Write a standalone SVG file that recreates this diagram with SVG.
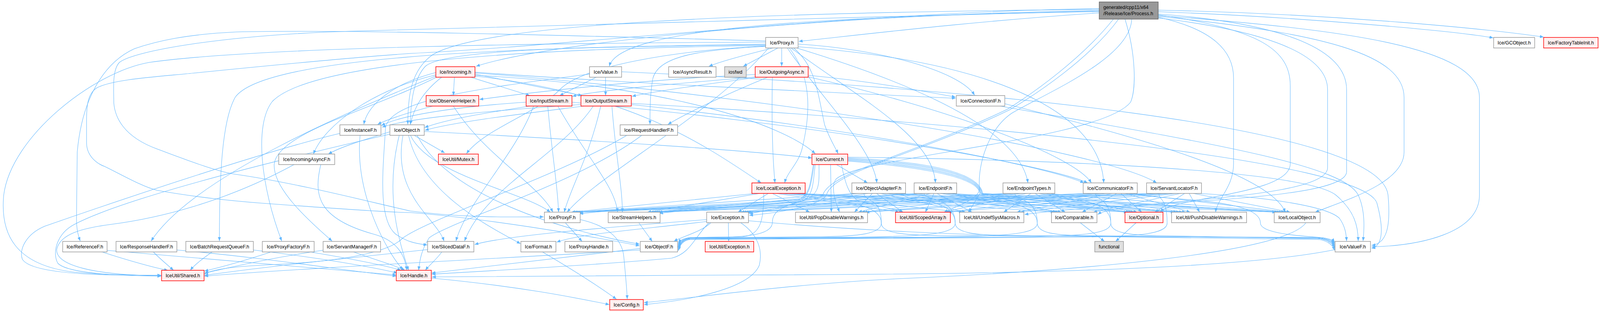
<svg xmlns="http://www.w3.org/2000/svg" width="4288" height="800" viewBox="0 0 4288 800">
<style>
.e{fill:none;stroke:#63b8ff;stroke-width:1.1;marker-end:url(#a)}
.node rect{stroke-width:1.5}
.n rect{fill:#ffffff;stroke:#999999}
.r rect{fill:#fff0f0;stroke:#ff0000}
.g rect{fill:#e0e0e0;stroke:#999999}
.p rect{fill:#999999;stroke:#666666}
.node text{font-family:"Liberation Sans",Arial,Helvetica,sans-serif;font-size:13px;fill:#000000;text-anchor:middle}
.p text{text-anchor:start}
</style>
<defs>
<marker id="a" markerWidth="10" markerHeight="8" refX="10" refY="4" orient="auto" markerUnits="userSpaceOnUse"><path d="M0,0 L10,4 L0,8 z" fill="#63b8ff"/></marker>
</defs>
<rect width="4288" height="800" fill="#ffffff"/>
<g id="diagram" transform="scale(0.9552,1)">
<g id="connectors">
<!-- Process -->
<path class="e" d="M2946,33 C2600,55 2300,90 2141,106"/>
<path class="e" d="M2946,27 C2300,36 1500,100 1276,170"/>
<path class="e" d="M2946,30 C2200,42 1660,70 1633,170"/>
<path class="e" d="M2946,24 C2000,32 1300,60 1160,140 C1100,180 1093,250 1093,319"/>
<path class="e" d="M3104,30 C3500,44 3900,80 4002,97"/>
<path class="e" d="M3104,26 C3600,36 4000,76 4137,95"/>
<path class="e" d="M3104,40 C3600,75 3965,120 3965,250 L3965,500 C3965,600 3800,630 3676,633"/>
<path class="e" d="M3104,42 C3550,85 3763,140 3763,250 L3763,390 C3763,470 3600,515 3525,544"/>
<path class="e" d="M3104,44 C3250,75 3306,130 3306,200 L3306,420 C3306,480 3262,510 3258,544"/>
<path class="e" d="M3104,38 C3380,75 3458,130 3458,220 L3458,420 C3458,500 3140,505 3110,544"/>
<path class="e" d="M3104,46 C3400,80 3558,140 3558,230 L3558,430 C3558,515 3000,510 2942,550"/>
<path class="e" d="M3104,36 C3450,60 3609,130 3609,230 L3609,440 C3609,520 3000,515 2746,550"/>
<path class="e" d="M3033,49 C3030,150 2800,240 2712,290 C2650,330 2620,420 2625,482 C2628,510 2560,530 2530,544"/>
<path class="e" d="M3015,49 C3045,140 3045,230 3030,262 C2950,360 2300,400 2240,460 C2225,480 2240,520 2250,544"/>
<path class="e" d="M2998,49 C2920,150 2780,240 2705,282 C2450,400 2230,440 2215,500 C2200,525 2100,545 2008,552"/>
<path class="e" d="M2984,49 C2900,150 2770,238 2700,280 C2440,400 2225,440 2205,500 C2190,525 1900,530 1765,544"/>
<path class="e" d="M2946,28 C2400,40 1400,70 940,80 C600,90 360,130 320,160 C300,180 305,230 305,264 C308,300 330,350 421,382 C500,410 580,440 632,447 C800,470 1000,520 1100,541 C1250,560 1380,556 1457,556"/>
<path class="e" d="M2946,22 C2300,30 1500,120 1100,137 C900,150 600,180 491,190 C400,198 300,205 260,225 C235,240 232,270 232,309 L232,366 C232,400 260,420 281,427 C330,450 380,478 421,488 C520,505 620,515 702,521 C900,535 1050,545 1100,545 C1300,560 1550,600 1714,630"/>
<!-- Proxy -->
<path class="e" d="M2072,123 C2000,140 1930,158 1900,170"/>
<path class="e" d="M2085,123 L1992,170"/>
<path class="e" d="M2095,123 L2095,170"/>
<path class="e" d="M2139,113 C2350,125 2570,180 2612,244"/>
<path class="e" d="M2052,113 C1700,120 1200,120 1140,170 C1110,200 1100,260 1100,319"/>
<path class="e" d="M2052,108 C1500,110 700,120 400,160 C250,185 30,350 10,500 C0,600 40,680 200,698 C300,706 390,706 432,706"/>
<path class="e" d="M2052,105 C1500,90 900,75 632,82 C500,88 420,105 360,125 C280,160 220,250 207,390 L205,560 C205,590 210,605 215,618"/>
<path class="e" d="M2052,115 C1300,120 700,150 630,250 C595,310 588,450 588,618"/>
<path class="e" d="M2052,117 C1300,125 820,170 730,260 C680,320 700,480 755,618"/>
<path class="e" d="M2052,119 C1850,128 1765,150 1750,200 C1742,240 1742,280 1742,319"/>
<path class="e" d="M2052,118 C1800,130 1560,170 1500,230 C1440,290 1300,330 1250,394"/>
<path class="e" d="M2060,123 C1900,300 1600,450 1520,544"/>
<path class="e" d="M2120,123 C2300,250 2500,350 2507,469"/>
<path class="e" d="M2135,123 C2400,200 2730,320 2755,469"/>
<path class="e" d="M2110,123 C2200,250 2340,380 2350,469"/>
<path class="e" d="M2127,123 C2185,170 2190,230 2210,320 C2225,360 2240,380 2246,394"/>
<path class="e" d="M2115,123 C2180,200 2170,300 2150,380 C2140,420 2110,440 2103,469"/>
<path class="e" d="M2139,120 C2700,160 2950,300 2958,469"/>
<!-- Incoming -->
<path class="e" d="M1218,197 L1215,245"/>
<path class="e" d="M1258,197 L1420,245"/>
<path class="e" d="M1273,190 L1560,245"/>
<path class="e" d="M1168,186 C1050,215 985,270 975,319"/>
<path class="e" d="M1185,197 C1140,230 1110,270 1100,319"/>
<path class="e" d="M1273,193 C1800,220 2100,320 2185,394"/>
<path class="e" d="M1273,185 C1700,215 2300,240 2561,252"/>
<path class="e" d="M1273,187 C2000,240 2950,380 3100,469"/>
<path class="e" d="M1273,195 C1700,240 1900,380 2040,469"/>
<path class="e" d="M1168,192 C1000,230 870,320 840,395"/>
<path class="e" d="M1168,195 C950,280 520,450 405,618"/>
<path class="e" d="M1172,197 C1000,280 745,340 735,420 C730,480 820,560 890,618"/>
<!-- Value -->
<path class="e" d="M1600,197 L1500,245"/>
<path class="e" d="M1623,197 L1623,245"/>
<path class="e" d="M1666,184 C2600,225 3700,320 3720,500 C3728,585 3715,625 3676,629"/>
<path class="e" d="M1580,190 C1250,230 1040,260 1033,330 C1028,420 1010,560 1060,600 C1090,620 1115,625 1145,628"/>
<!-- OutgoingAsync -->
<path class="e" d="M2024,191 C1700,205 1400,240 1285,255"/>
<path class="e" d="M2030,197 C1800,215 1600,232 1534,247"/>
<path class="e" d="M2040,197 C1900,215 1760,233 1694,247"/>
<path class="e" d="M2166,193 C2350,210 2480,235 2561,249"/>
<path class="e" d="M2060,197 C1950,240 1840,290 1790,319"/>
<path class="e" d="M2070,197 C2068,300 2070,400 2077,469"/>
<path class="e" d="M2166,197 C2550,280 2880,400 2925,469"/>
<!-- ObserverHelper -->
<path class="e" d="M1160,272 C1090,290 1040,305 1012,319"/>
<path class="e" d="M1215,272 C1300,400 1440,470 1482,544"/>
<!-- InputStream -->
<path class="e" d="M1410,262 C1200,275 1070,298 1022,322"/>
<path class="e" d="M1420,272 C1300,290 1200,305 1138,327"/>
<path class="e" d="M1468,272 C1480,400 1495,480 1497,544"/>
<path class="e" d="M1495,272 C1570,400 1650,480 1655,544"/>
<path class="e" d="M1430,272 C1380,400 1250,520 1222,618"/>
<path class="e" d="M1533,262 C2200,320 2800,420 2915,469"/>
<!-- OutputStream -->
<path class="e" d="M1557,268 C1300,285 1100,302 1024,326"/>
<path class="e" d="M1565,272 C1400,292 1220,312 1139,334"/>
<path class="e" d="M1610,272 C1580,400 1530,480 1512,544"/>
<path class="e" d="M1640,272 C1650,400 1668,480 1668,544"/>
<path class="e" d="M1590,272 C1500,400 1300,480 1245,618"/>
<path class="e" d="M1692,268 C2300,330 2800,425 2905,469"/>
<path class="e" d="M1692,265 C2700,320 3650,415 3690,520 C3710,590 3705,630 3676,637"/>
<!-- ConnectionIF -->
<path class="e" d="M2693,266 C3000,340 3400,440 3445,544"/>
<path class="e" d="M2680,272 C3200,360 3600,420 3640,500 C3660,540 3656,590 3653,618"/>
<!-- InstanceF -->
<path class="e" d="M911,342 C700,390 300,520 120,580 C70,600 50,640 60,665 C80,695 200,703 300,705 L432,706"/>
<path class="e" d="M965,347 C950,500 1040,650 1080,692"/>
<!-- Object -->
<path class="e" d="M1110,347 L1192,392"/>
<path class="e" d="M1045,338 C970,360 910,378 880,395"/>
<path class="e" d="M1137,337 C1600,360 2000,385 2176,405"/>
<path class="e" d="M1100,347 C1150,450 1400,490 1475,544"/>
<path class="e" d="M1118,347 C1200,500 1500,590 1714,626"/>
<path class="e" d="M1080,347 C1050,500 1170,560 1190,618"/>
<path class="e" d="M1095,347 C1130,500 1330,590 1395,625"/>
<path class="e" d="M1070,347 C1030,500 1070,620 1095,693"/>
<path class="e" d="M1045,344 C700,420 330,510 200,575 C150,600 140,650 155,675 C180,700 300,707 432,708"/>
<!-- RequestHandlerF -->
<path class="e" d="M1680,347 C1500,450 1150,560 1080,610 C1040,650 900,672 700,680 C600,685 560,695 548,703"/>
<path class="e" d="M1720,347 C1550,470 1200,570 1150,610 C1130,640 1125,665 1122,693"/>
<!-- IncomingAsyncF -->
<path class="e" d="M790,421 C600,520 420,560 300,575 C220,585 160,600 152,640 C150,680 250,706 432,707"/>
<path class="e" d="M860,421 C840,500 850,560 1000,600 C1060,615 1085,650 1090,693"/>
<!-- Current -->
<path class="e" d="M2240,421 L2325,469"/>
<path class="e" d="M2226,421 L2228,544"/>
<path class="e" d="M2185,421 C2180,460 2180,495 2160,510 C2120,530 2050,540 2008,548"/>
<path class="e" d="M2180,421 C2172,465 2172,500 2140,512 C2000,528 1700,532 1553,548"/>
<path class="e" d="M2182,421 C2175,465 2172,500 2145,514 C2000,532 1850,536 1767,547"/>
<path class="e" d="M2195,421 C2195,470 2200,500 2150,515 C2090,530 2070,545 2070,570 C2070,600 2010,606 1950,608 L1850,609 Q1826,611 1818,641"/>
<path class="e" d="M2255,421 C2265,470 2275,500 2300,515 C2350,530 2400,535 2420,544"/>
<path class="e" d="M2272,413 Q2620,440 2626,496 L2596,544"/>
<path class="e" d="M2272,411 Q2620,435 2628,496 L2832,544"/>
<path class="e" d="M2272,409 Q2620,430 2630,496 L3028,544"/>
<path class="e" d="M2272,407 Q2620,425 2632,496 L3155,544"/>
<path class="e" d="M2272,405 Q2620,420 2634,496 L3426,544"/>
<path class="e" d="M2272,403 C2900,410 3500,440 3580,500 C3630,540 3640,580 3640,618"/>
<!-- LocalException -->
<path class="e" d="M2025,496 L1531,544"/>
<path class="e" d="M2036,496 L1735,544"/>
<path class="e" d="M2059,496 L1978,544"/>
<path class="e" d="M2070,496 L2170,544"/>
<path class="e" d="M2081,496 L2410,544"/>
<path class="e" d="M2092,496 L2580,544"/>
<path class="e" d="M2103,496 L2826,544"/>
<path class="e" d="M2115,496 L3022,544"/>
<path class="e" d="M2126,496 L3148,544"/>
<path class="e" d="M2137,496 L3420,544"/>
<path class="e" d="M2047,496 C2047,560 2040,604 1990,607 L1850,609 Q1826,611 1818,623"/>
<path class="e" d="M2148,496 C2170,520 2362,505 2362,572 C2362,598 2420,603 2520,604 L3530,609 Q3566,611 3577,624"/>
<!-- ObjectAdapterF -->
<path class="e" d="M2293,496 L1536,544"/>
<path class="e" d="M2304,496 L1742,544"/>
<path class="e" d="M2327,496 L1985,544"/>
<path class="e" d="M2338,496 L2290,544"/>
<path class="e" d="M2349,496 L2420,544"/>
<path class="e" d="M2360,496 L2588,544"/>
<path class="e" d="M2371,496 L2838,544"/>
<path class="e" d="M2383,496 L3034,544"/>
<path class="e" d="M2394,496 L3162,544"/>
<path class="e" d="M2405,496 L3432,544"/>
<path class="e" d="M2315,496 C2320,520 2362,505 2362,572 C2362,600 2300,606 2200,607 L1850,610 Q1826,612 1818,627"/>
<path class="e" d="M2416,496 C2430,520 2560,505 2560,572 C2560,598 2620,603 2700,604 L3530,610 Q3566,612 3577,628"/>
<!-- EndpointF -->
<path class="e" d="M2460,496 L1540,544"/>
<path class="e" d="M2469,496 L1748,544"/>
<path class="e" d="M2486,496 L1990,544"/>
<path class="e" d="M2494,496 L2300,544"/>
<path class="e" d="M2503,496 L2480,544"/>
<path class="e" d="M2511,496 L2605,544"/>
<path class="e" d="M2520,496 L2845,544"/>
<path class="e" d="M2528,496 L3040,544"/>
<path class="e" d="M2537,496 L3170,544"/>
<path class="e" d="M2545,496 L3438,544"/>
<path class="e" d="M2477,496 C2477,515 2560,505 2560,572 C2560,600 2480,606 2300,608 L1850,611 Q1826,613 1818,631"/>
<path class="e" d="M2554,496 C2600,515 2780,505 2780,572 C2780,598 2830,603 2900,604 L3530,611 Q3566,613 3577,632"/>
<!-- EndpointTypes -->
<path class="e" d="M2698,496 L1544,544"/>
<path class="e" d="M2709,496 L1753,544"/>
<path class="e" d="M2730,496 L1995,544"/>
<path class="e" d="M2741,496 L2308,544"/>
<path class="e" d="M2752,496 L2530,544"/>
<path class="e" d="M2763,496 L2690,544"/>
<path class="e" d="M2774,496 L2855,544"/>
<path class="e" d="M2784,496 L3048,544"/>
<path class="e" d="M2795,496 L3178,544"/>
<path class="e" d="M2806,496 L3444,544"/>
<path class="e" d="M2720,496 C2720,515 2780,505 2780,572 C2780,600 2700,606 2500,608 L1850,612 Q1826,614 1818,635"/>
<path class="e" d="M2817,496 C2850,515 2977,505 2977,572 C2977,598 3030,603 3100,604 L3530,612 Q3566,614 3577,636"/>
<!-- CommunicatorF -->
<path class="e" d="M2913,496 L1548,544"/>
<path class="e" d="M2924,496 L1758,544"/>
<path class="e" d="M2947,496 L1999,544"/>
<path class="e" d="M2959,496 L2314,544"/>
<path class="e" d="M2970,496 L2535,544"/>
<path class="e" d="M2981,496 L2725,544"/>
<path class="e" d="M2993,496 L2900,544"/>
<path class="e" d="M3004,496 L3060,544"/>
<path class="e" d="M3016,496 L3190,544"/>
<path class="e" d="M3027,496 L3450,544"/>
<path class="e" d="M2936,496 C2936,515 2977,505 2977,572 C2977,600 2900,606 2700,608 L1850,613 Q1826,615 1818,639"/>
<path class="e" d="M3038,496 C3100,515 3378,505 3378,572 C3378,598 3480,605 3540,609 Q3570,612 3577,621"/>
<!-- ServantLocatorF -->
<path class="e" d="M3083,496 L1552,544"/>
<path class="e" d="M3095,496 L1763,544"/>
<path class="e" d="M3118,496 L2003,544"/>
<path class="e" d="M3129,496 L2320,544"/>
<path class="e" d="M3141,496 L2540,544"/>
<path class="e" d="M3152,496 L2735,544"/>
<path class="e" d="M3164,496 L2930,544"/>
<path class="e" d="M3175,496 L3095,544"/>
<path class="e" d="M3187,496 L3215,544"/>
<path class="e" d="M3198,496 L3458,544"/>
<path class="e" d="M3106,496 C3106,515 3128,505 3128,572 C3128,600 3050,606 2900,608 L1850,614 Q1826,616 1818,643"/>
<path class="e" d="M3210,496 C3400,505 3560,530 3590,560 C3605,580 3608,600 3609,618"/>
<!-- row 7 -->
<path class="e" d="M1515,571 L1560,619"/>
<path class="e" d="M1555,563 C1625,578 1668,610 1672,660 C1676,700 1680,740 1681,767"/>
<path class="e" d="M1712,571 L1748,619"/>
<path class="e" d="M1952,571 L1953,619"/>
<path class="e" d="M1894,563 C1600,585 1350,605 1272,627"/>
<path class="e" d="M1905,571 C1880,595 1830,605 1806,619"/>
<path class="e" d="M1894,568 C1700,590 1550,600 1492,621"/>
<path class="e" d="M1900,571 C1860,610 1850,650 1800,662 C1600,680 1300,695 1157,703"/>
<path class="e" d="M2006,566 C2300,592 2600,603 2800,605 L3530,614 Q3566,616 3577,642"/>
<path class="e" d="M1985,571 C2030,600 2045,640 2035,680 C2010,740 1850,770 1726,781"/>
<path class="e" d="M2895,571 L2960,619"/>
<path class="e" d="M3045,571 L2990,619"/>
<path class="e" d="M3500,571 C3450,640 3000,690 2400,715 C2100,730 1850,765 1726,776"/>
<!-- row 8 -->
<path class="e" d="M1716,637 C1500,660 1300,685 1157,700"/>
<path class="e" d="M1716,641 C1300,665 800,688 548,708"/>
<path class="e" d="M1146,640 C950,660 700,685 548,706"/>
<path class="e" d="M1185,645 C1170,665 1150,680 1140,693"/>
<path class="e" d="M1452,645 C1550,700 1620,745 1652,767"/>
<path class="e" d="M270,645 C350,670 420,688 450,693"/>
<path class="e" d="M287,642 C600,665 900,690 1062,705"/>
<path class="e" d="M410,645 C430,665 450,680 465,693"/>
<path class="e" d="M474,641 C700,660 900,690 1062,708"/>
<path class="e" d="M570,645 C540,665 520,680 510,693"/>
<path class="e" d="M679,641 C850,660 1000,685 1065,700"/>
<path class="e" d="M730,645 C650,670 580,688 548,695"/>
<path class="e" d="M825,645 C950,665 1030,680 1075,693"/>
<path class="e" d="M870,641 C700,665 600,690 548,700"/>
<path class="e" d="M945,645 C1000,665 1060,680 1085,693"/>
<path class="e" d="M3578,640 C3300,695 2600,704 2000,705 L1158,710"/>
<!-- row 9 -->
<path class="e" d="M1156,713 C1400,735 1550,765 1633,781"/>
</g>
<g id="n_process" class="node p"><rect x="2946" y="5" width="158" height="44"/><text x="2957" y="23">generated/cpp11/x64</text><text x="2957" y="39">/Release/Ice/Process.h</text></g>
<g id="n_proxy" class="node n"><rect x="2052" y="96" width="87" height="27"/><text x="2095.5" y="114">Ice/Proxy.h</text></g>
<g id="n_gcobject" class="node n"><rect x="4003" y="96" width="110" height="27"/><text x="4058" y="114">Ice/GCObject.h</text></g>
<g id="n_factorytableinit" class="node r"><rect x="4137" y="96" width="146" height="27"/><text x="4210" y="114">Ice/FactoryTableInit.h</text></g>
<g id="n_incoming" class="node r"><rect x="1168" y="171" width="105" height="27"/><text x="1220.5" y="189">Ice/Incoming.h</text></g>
<g id="n_value" class="node n"><rect x="1580" y="171" width="86" height="27"/><text x="1623" y="189">Ice/Value.h</text></g>
<g id="n_asyncresult" class="node n"><rect x="1792" y="171" width="127" height="27"/><text x="1855.5" y="189">Ice/AsyncResult.h</text></g>
<g id="n_iosfwd" class="node g"><rect x="1942" y="171" width="58" height="27"/><text x="1971" y="189">iosfwd</text></g>
<g id="n_outgoingasync" class="node r"><rect x="2024" y="171" width="142" height="27"/><text x="2095" y="189">Ice/OutgoingAsync.h</text></g>
<g id="n_observerhelper" class="node r"><rect x="1142" y="245" width="141" height="27"/><text x="1212.5" y="263">Ice/ObserverHelper.h</text></g>
<g id="n_inputstream" class="node r"><rect x="1410" y="245" width="123" height="27"/><text x="1471.5" y="263">Ice/InputStream.h</text></g>
<g id="n_outputstream" class="node r"><rect x="1557" y="245" width="135" height="27"/><text x="1624.5" y="263">Ice/OutputStream.h</text></g>
<g id="n_connectionif" class="node n"><rect x="2563" y="245" width="130" height="27"/><text x="2628" y="263">Ice/ConnectionIF.h</text></g>
<g id="n_instancef" class="node n"><rect x="911" y="320" width="110" height="27"/><text x="966" y="338">Ice/InstanceF.h</text></g>
<g id="n_object" class="node n"><rect x="1045" y="320" width="92" height="27"/><text x="1091" y="338">Ice/Object.h</text></g>
<g id="n_requesthandlerf" class="node n"><rect x="1662" y="320" width="154" height="27"/><text x="1739" y="338">Ice/RequestHandlerF.h</text></g>
<g id="n_incomingasyncf" class="node n"><rect x="747" y="395" width="150" height="27"/><text x="822" y="413">Ice/IncomingAsyncF.h</text></g>
<g id="n_mutex" class="node r"><rect x="1175" y="395" width="107" height="27"/><text x="1228.5" y="413">IceUtil/Mutex.h</text></g>
<g id="n_current" class="node r"><rect x="2176" y="395" width="96" height="27"/><text x="2224" y="413">Ice/Current.h</text></g>
<g id="n_localexception" class="node r"><rect x="2015" y="469" width="143" height="27"/><text x="2086.5" y="487">Ice/LocalException.h</text></g>
<g id="n_objectadapterf" class="node n"><rect x="2283" y="469" width="144" height="27"/><text x="2355" y="487">Ice/ObjectAdapterF.h</text></g>
<g id="n_endpointf" class="node n"><rect x="2450" y="469" width="114" height="27"/><text x="2507" y="487">Ice/EndpointF.h</text></g>
<g id="n_endpointtypes" class="node n"><rect x="2688" y="469" width="139" height="27"/><text x="2757.5" y="487">Ice/EndpointTypes.h</text></g>
<g id="n_communicatorf" class="node n"><rect x="2903" y="469" width="145" height="27"/><text x="2975.5" y="487">Ice/CommunicatorF.h</text></g>
<g id="n_servantlocatorf" class="node n"><rect x="3073" y="469" width="147" height="27"/><text x="3146.5" y="487">Ice/ServantLocatorF.h</text></g>
<g id="n_proxyf" class="node n"><rect x="1459" y="544" width="96" height="27"/><text x="1507" y="562">Ice/ProxyF.h</text></g>
<g id="n_streamhelpers" class="node n"><rect x="1630" y="544" width="139" height="27"/><text x="1699.5" y="562">Ice/StreamHelpers.h</text></g>
<g id="n_exception" class="node n"><rect x="1894" y="544" width="112" height="27"/><text x="1950" y="562">Ice/Exception.h</text></g>
<g id="n_popdisablewarnings" class="node n"><rect x="2132" y="544" width="193" height="27"/><text x="2228.5" y="562">IceUtil/PopDisableWarnings.h</text></g>
<g id="n_scopedarray" class="node r"><rect x="2400" y="544" width="147" height="27"/><text x="2473.5" y="562">IceUtil/ScopedArray.h</text></g>
<g id="n_undefsysmacros" class="node n"><rect x="2572" y="544" width="172" height="27"/><text x="2658" y="562">IceUtil/UndefSysMacros.h</text></g>
<g id="n_comparable" class="node n"><rect x="2818" y="544" width="122" height="27"/><text x="2879" y="562">Ice/Comparable.h</text></g>
<g id="n_optional" class="node r"><rect x="3015" y="544" width="102" height="27"/><text x="3066" y="562">Ice/Optional.h</text></g>
<g id="n_pushdisablewarnings" class="node n"><rect x="3140" y="544" width="201" height="27"/><text x="3240.5" y="562">IceUtil/PushDisableWarnings.h</text></g>
<g id="n_localobject" class="node n"><rect x="3415" y="544" width="123" height="27"/><text x="3476.5" y="562">Ice/LocalObject.h</text></g>
<g id="n_referencef" class="node n"><rect x="168" y="619" width="119" height="27"/><text x="227.5" y="637">Ice/ReferenceF.h</text></g>
<g id="n_responsehandlerf" class="node n"><rect x="311" y="619" width="163" height="27"/><text x="392.5" y="637">Ice/ResponseHandlerF.h</text></g>
<g id="n_batchrequestqueuef" class="node n"><rect x="498" y="619" width="181" height="27"/><text x="588.5" y="637">Ice/BatchRequestQueueF.h</text></g>
<g id="n_proxyfactoryf" class="node n"><rect x="703" y="619" width="139" height="27"/><text x="772.5" y="637">Ice/ProxyFactoryF.h</text></g>
<g id="n_servantmanagerf" class="node n"><rect x="866" y="619" width="154" height="27"/><text x="943" y="637">Ice/ServantManagerF.h</text></g>
<g id="n_sliceddataf" class="node n"><rect x="1146" y="619" width="124" height="27"/><text x="1208" y="637">Ice/SlicedDataF.h</text></g>
<g id="n_format" class="node n"><rect x="1396" y="619" width="94" height="27"/><text x="1443" y="637">Ice/Format.h</text></g>
<g id="n_proxyhandle" class="node n"><rect x="1514" y="619" width="128" height="27"/><text x="1578" y="637">Ice/ProxyHandle.h</text></g>
<g id="n_objectf" class="node n"><rect x="1716" y="619" width="100" height="27"/><text x="1766" y="637">Ice/ObjectF.h</text></g>
<g id="n_iceutilexception" class="node r"><rect x="1890" y="619" width="130" height="27"/><text x="1955" y="637">IceUtil/Exception.h</text></g>
<g id="n_functional" class="node g"><rect x="2934" y="619" width="77" height="27"/><text x="2972.5" y="637">functional</text></g>
<g id="n_valuef" class="node n"><rect x="3578" y="619" width="95" height="27"/><text x="3625.5" y="637">Ice/ValueF.h</text></g>
<g id="n_shared" class="node r"><rect x="433" y="693" width="114" height="27"/><text x="490" y="711">IceUtil/Shared.h</text></g>
<g id="n_handle" class="node r"><rect x="1062" y="693" width="94" height="27"/><text x="1109" y="711">Ice/Handle.h</text></g>
<g id="n_config" class="node r"><rect x="1634" y="768" width="90" height="27"/><text x="1679" y="786">Ice/Config.h</text></g>
</g>
</svg>
